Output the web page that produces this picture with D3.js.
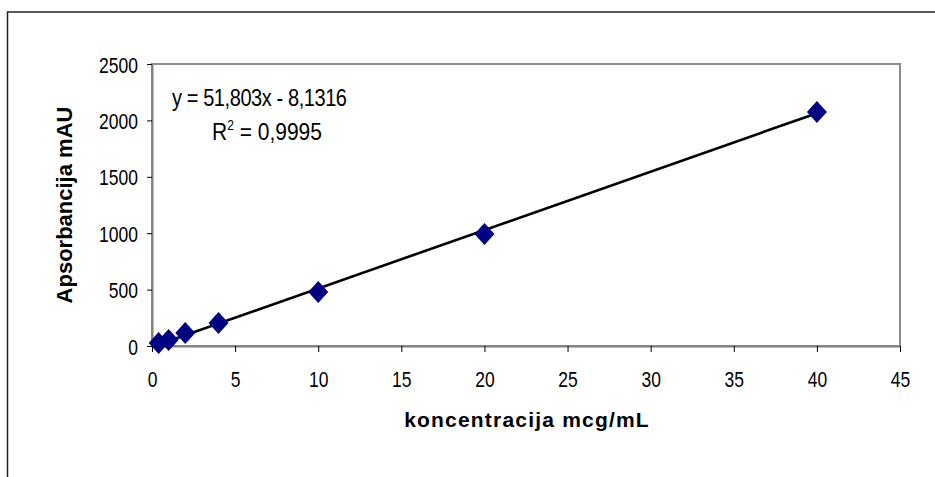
<!DOCTYPE html>
<html>
<head>
<meta charset="utf-8">
<script src="https://cdn.jsdelivr.net/npm/d3@7"></script>
<style>
  body { margin: 0; background: #fff; }
  text { font-family: "Liberation Sans", Arial, sans-serif; fill: #000; }
</style>
</head>
<body>
<div id="canvas"></div>
<script>
"use strict"

/* data */
let concentrations = [0.4, 1, 2, 4, 10, 20, 40];
let absorbances = [27, 53, 115, 204, 479, 993, 2074];
let xTicks = [0, 5, 10, 15, 20, 25, 30, 35, 40, 45];
let yTicks = [0, 500, 1000, 1500, 2000, 2500];
let slope = 51.803;
let intercept = -8.1316;
let equationText = "y = 51,803x - 8,1316";
let r2Value = "0,9995";

let svgWidth = 935;
let svgHeight = 477;
let plot = {left: 152, right: 900, top: 64, bottom: 346};
let stretch = 1.3; /* the labels in the picture are drawn taller than wide */

let svg = d3.select("#canvas")
    .append("svg")
    .attr("width", svgWidth)
    .attr("height", svgHeight);

/* outer chart border, runs off the right and bottom edge */
svg.append("rect")
    .attr("x", 7.5)
    .attr("y", 12)
    .attr("width", 1000)
    .attr("height", 600)
    .attr("fill", "none")
    .attr("stroke", "#222")
    .attr("stroke-width", 1.5);

let xScale = d3.scaleLinear()
    .domain([0, 45])
    .range([plot.left, plot.right]);

let yScale = d3.scaleLinear()
    .domain([0, 2500])
    .range([plot.bottom, plot.top]);

/* plot area border */
svg.append("rect")
    .attr("x", plot.left)
    .attr("y", plot.top)
    .attr("width", plot.right - plot.left)
    .attr("height", plot.bottom - plot.top)
    .attr("fill", "none")
    .attr("stroke", "#8c8c8c")
    .attr("stroke-width", 2);

/* axes */
let xAxis = svg.append("g")
    .attr("transform", "translate(0," + plot.bottom + ")")
    .call(d3.axisBottom(xScale).tickValues(xTicks).tickFormat(d3.format("d")).tickSize(6).tickSizeOuter(0));

let yAxis = svg.append("g")
    .attr("transform", "translate(" + plot.left + ",0)")
    .call(d3.axisLeft(yScale).tickValues(yTicks).tickFormat(d3.format("d")).tickSize(5).tickSizeOuter(0));

[xAxis, yAxis].forEach(function (ax) {
    ax.select(".domain").attr("stroke", "#808080").attr("stroke-width", 2);
    ax.selectAll(".tick line").attr("stroke", "#000");
    ax.selectAll(".tick text")
        .attr("font-size", 17.5)
        .attr("font-family", "Liberation Sans, Arial, sans-serif")
        .attr("fill", "#000")
        .attr("x", null)
        .attr("y", null);
});

xAxis.selectAll(".tick text")
    .attr("dy", null)
    .attr("transform", "translate(0,41) scale(1," + stretch + ")");

yAxis.selectAll(".tick text")
    .attr("dy", "0.36em")
    .attr("transform", "translate(-14,0) scale(1," + stretch + ")");

/* trend line over the data range */
let xExtent = d3.extent(concentrations);
svg.append("line")
    .attr("x1", xScale(xExtent[0]))
    .attr("y1", yScale(slope * xExtent[0] + intercept))
    .attr("x2", xScale(xExtent[1]))
    .attr("y2", yScale(slope * xExtent[1] + intercept))
    .attr("stroke", "#000")
    .attr("stroke-width", 2.6);

/* diamond markers */
function diamond(cx, cy) {
    let w = 10, h = 11;
    return "M" + cx + "," + (cy - h) + "L" + (cx + w) + "," + cy +
        "L" + cx + "," + (cy + h) + "L" + (cx - w) + "," + cy + "Z";
}

svg.selectAll(".point")
    .data(concentrations)
    .join("path")
    .attr("class", "point")
    .attr("d", function (d, i) {
        return diamond(xScale(d), yScale(absorbances[i]));
    })
    .attr("fill", "#000080");

/* equation and R squared */
svg.append("text")
    .attr("transform", "translate(172,106) scale(1,1.15)")
    .attr("font-size", 20)
    .attr("textLength", 175)
    .text(equationText);

let r2 = svg.append("text")
    .attr("transform", "translate(212,140) scale(1,1.15)")
    .attr("font-size", 21);
r2.append("tspan").text("R");
r2.append("tspan").attr("font-size", 12).attr("dy", -9).text("2");
r2.append("tspan").attr("dy", 9).text(" = " + r2Value);

/* axis titles */
svg.append("text")
    .attr("x", 527)
    .attr("y", 427)
    .attr("text-anchor", "middle")
    .attr("font-size", 21)
    .attr("letter-spacing", 1.2)
    .attr("font-weight", "bold")
    .text("koncentracija mcg/mL");

svg.append("text")
    .attr("transform", "translate(72,205) rotate(-90)")
    .attr("text-anchor", "middle")
    .attr("font-size", 22)
    .attr("font-weight", "bold")
    .text("Apsorbancija mAU");
</script>
</body>
</html>
